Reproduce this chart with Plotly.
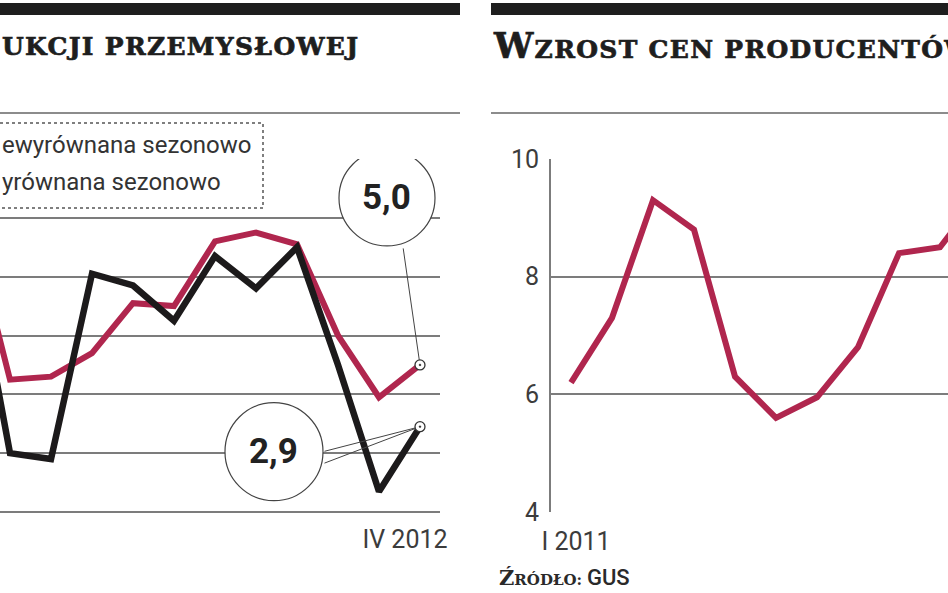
import plotly.graph_objects as go

W, H = 948, 593

# ---------------- data ----------------
left_months = ["V 2011", "VI 2011", "VII 2011", "VIII 2011", "IX 2011", "X 2011",
               "XI 2011", "XII 2011", "I 2012", "II 2012", "III 2012", "IV 2012"]
prod_unadjusted = [9.5, 2.0, 1.8, 8.1, 7.7, 6.5, 8.7, 7.6, 9.0, 5.0, 0.7, 2.9]
prod_adjusted = [10.0, 4.5, 4.6, 5.4, 7.1, 7.0, 9.2, 9.5, 9.1, 6.0, 3.9, 5.0]

right_months = ["I 2011", "II 2011", "III 2011", "IV 2011", "V 2011", "VI 2011",
                "VII 2011", "VIII 2011", "IX 2011", "X 2011", "XI 2011"]
ppi = [6.2, 7.3, 9.3, 8.8, 6.3, 5.6, 5.95, 6.8, 8.4, 8.5, 9.4]

left_title = "UKCJI PRZEMYSŁOWEJ"
right_title_cap, right_title_rest = "W", "ZROST CEN PRODUCENTÓW"
legend_labels = ["ewyrównana sezonowo", "yrównana sezonowo"]
left_tick_label = "IV 2012"
right_tick_label = "I 2011"
callout_adjusted = "5,0"
callout_unadjusted = "2,9"

RED = "#b0264e"
BLACK = "#1c1a1b"
GRID = "#7c7c7c"
TXT = "#3c3c3c"
SANS = "Roboto"
SERIF = "DejaVu Serif"
HEAVY = "letter-spacing:1.3px;stroke:#1e1e1e;stroke-width:0.7px"


def px(x):
    return x / W


def py(y):
    return 1 - y / H


fig = go.Figure()

fig.add_trace(go.Scatter(x=left_months, y=prod_adjusted, mode="lines",
                         line=dict(color=RED, width=6), xaxis="x", yaxis="y",
                         name="Wyrównana sezonowo"))
fig.add_trace(go.Scatter(x=left_months, y=prod_unadjusted, mode="lines",
                         line=dict(color=BLACK, width=6.5), xaxis="x", yaxis="y",
                         name="Niewyrównana sezonowo"))
fig.add_trace(go.Scatter(x=[left_months[-1], left_months[-1]],
                         y=[prod_adjusted[-1], prod_unadjusted[-1]],
                         mode="markers", cliponaxis=False,
                         marker=dict(symbol="circle-dot", size=10, color="white",
                                     line=dict(color="#333", width=1.3)),
                         xaxis="x", yaxis="y"))
fig.add_trace(go.Scatter(x=right_months, y=ppi, mode="lines",
                         line=dict(color=RED, width=6), xaxis="x2", yaxis="y2",
                         name="PPI"))

ydom = [py(512), py(159)]

fig.update_layout(
    template="none",
    width=W, height=H, autosize=False,
    margin=dict(l=0, r=0, t=0, b=0, pad=0, autoexpand=False),
    paper_bgcolor="white", plot_bgcolor="white",
    showlegend=False,
    xaxis=dict(domain=[0, px(440)], type="category", categoryorder="array",
               categoryarray=left_months, range=[0.756, 11.488], automargin=False,
               showgrid=False, zeroline=False, showline=False,
               tickmode="array", tickvals=[left_months[-1]], ticktext=[left_tick_label],
               ticks="", ticklabelshift=-15, ticklabelstandoff=10,
               tickfont=dict(family=SANS, size=25, color=TXT), anchor="y"),
    yaxis=dict(domain=ydom, range=[0, 12], tick0=0, dtick=2, automargin=False,
               showgrid=True, gridcolor=GRID, gridwidth=1.7,
               zeroline=True, zerolinecolor=GRID, zerolinewidth=1.7,
               showticklabels=False, ticks="", anchor="x"),
    xaxis2=dict(domain=[px(551), 1], type="category", categoryorder="array",
                categoryarray=right_months, range=[-0.488, 9.195], automargin=False,
                showgrid=False, zeroline=False, showline=False,
                tickmode="array", tickvals=[right_months[0]], ticktext=[right_tick_label],
                ticks="", ticklabelshift=5, ticklabelstandoff=12,
                tickfont=dict(family=SANS, size=25, color=TXT), anchor="y2"),
    yaxis2=dict(domain=ydom, range=[4, 10], tick0=4, dtick=2, automargin=False,
                showgrid=True, gridcolor=GRID, gridwidth=1.7,
                zeroline=False, showline=True, linecolor=GRID, linewidth=1.7,
                ticks="", ticklabelstandoff=5,
                tickfont=dict(family=SANS, size=25, color=TXT), anchor="x2"),
)

shapes = []
# header bars and rules
for x0, x1 in [(-5, 460), (491, 960)]:
    shapes.append(dict(type="rect", xref="paper", yref="paper",
                       x0=px(x0), x1=px(x1), y0=py(15), y1=py(3),
                       fillcolor="#1e1e1e", line=dict(width=0)))
    shapes.append(dict(type="line", xref="paper", yref="paper",
                       x0=px(x0), x1=px(x1), y0=py(113), y1=py(113),
                       line=dict(color="#8c8c8c", width=2)))
# legend box
shapes.append(dict(type="rect", xref="paper", yref="paper", layer="above",
                   x0=px(-10), x1=px(263), y0=py(208), y1=py(123),
                   fillcolor="white", line=dict(color="#555", width=1.5, dash="dot")))
# callout circles anchored to data points
shapes.append(dict(type="circle", xref="x", yref="y", layer="above",
                   xsizemode="pixel", ysizemode="pixel",
                   xanchor=left_months[-1], yanchor=prod_adjusted[-1],
                   x0=-81, x1=15, y0=119, y1=215,
                   fillcolor="white", line=dict(color="#444", width=1.2)))
shapes.append(dict(type="circle", xref="x", yref="y", layer="above",
                   xsizemode="pixel", ysizemode="pixel",
                   xanchor=left_months[-1], yanchor=prod_unadjusted[-1],
                   x0=-195, x1=-97, y0=-74, y1=24,
                   fillcolor="white", line=dict(color="#444", width=1.2)))

annotations = []
# titles
annotations.append(dict(xref="paper", yref="paper", x=px(0), y=py(47),
                        xanchor="left", yanchor="middle", showarrow=False,
                        text="<b><span style=\"" + HEAVY + "\">" + left_title + "</span></b>",
                        font=dict(family=SERIF, size=25, color="#1e1e1e")))
annotations.append(dict(xref="paper", yref="paper", x=px(491), y=py(45),
                        xanchor="left", yanchor="middle", showarrow=False,
                        text="<b><span style=\"font-size:35px;" + HEAVY + "\">" + right_title_cap
                             + "</span><span style=\"" + HEAVY + "\">" + right_title_rest
                             + "</span></b>",
                        font=dict(family=SERIF, size=25, color="#1e1e1e")))
# legend texts
for i, lab in enumerate(legend_labels):
    annotations.append(dict(xref="paper", yref="paper", x=px(0), y=py(145 + 37 * i),
                            xanchor="left", yanchor="middle", showarrow=False,
                            text=lab, font=dict(family=SANS, size=24, color="#333")))
# callout texts
annotations.append(dict(xref="x", yref="y", x=left_months[-1], y=prod_adjusted[-1],
                        xshift=-33, yshift=167, showarrow=False, text="<b>" + callout_adjusted + "</b>",
                        font=dict(family=SANS, size=35, color="#222")))
annotations.append(dict(xref="x", yref="y", x=left_months[-1], y=prod_unadjusted[-1],
                        xshift=-146, yshift=-25, showarrow=False, text="<b>" + callout_unadjusted + "</b>",
                        font=dict(family=SANS, size=35, color="#222")))
# leader lines
for yv, ax, ay in [(prod_adjusted[-1], -17, -118),
                   (prod_unadjusted[-1], -97, 25),
                   (prod_unadjusted[-1], -97, 37)]:
    annotations.append(dict(xref="x", yref="y", x=left_months[-1], y=yv, text="",
                            showarrow=True, arrowhead=0, arrowwidth=1, arrowcolor="#444",
                            ax=ax, ay=ay, standoff=5))
# source
annotations.append(dict(xref="paper", yref="paper", x=px(497), y=py(577),
                        xanchor="left", yanchor="middle", showarrow=False,
                        text="<b><span style=\"font-size:21px\">Ź</span>RÓDŁO:</b> "
                             "<span style=\"font-family:Roboto;font-weight:500;font-size:22px\">GUS</span>",
                        font=dict(family=SERIF, size=15, color="#2a2a2a")))

fig.update_layout(shapes=shapes, annotations=annotations)
fig.write_html("out.html")
